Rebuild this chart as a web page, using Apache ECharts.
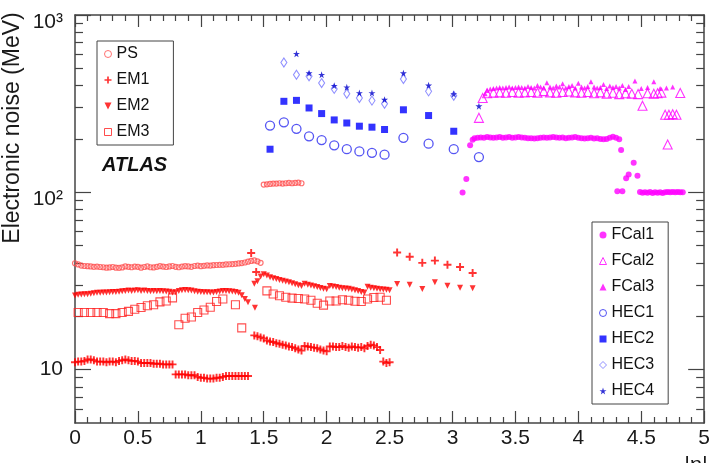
<!DOCTYPE html>
<html>
<head>
<meta charset="utf-8">
<script src="https://cdn.jsdelivr.net/npm/echarts@6/dist/echarts.min.js"></script>
<style>
  html, body { margin: 0; padding: 0; background: #fff; }
  #main { width: 713px; height: 463px; }
</style>
</head>
<body>
<div id="main"></div>
<script>
// noise values, [|eta|, MeV]
var psData = [
  [0.000,39.8],[0.025,39.2],[0.050,38.6],[0.075,38.4],[0.100,38.3],[0.125,38.2],[0.150,38.0],[0.175,38.1],
  [0.200,37.9],[0.225,37.8],[0.250,37.6],[0.275,37.7],[0.300,37.9],[0.325,37.6],[0.350,37.5],[0.375,37.7],
  [0.400,38.2],[0.425,38.0],[0.450,37.8],[0.475,38.1],[0.500,38.0],[0.525,37.6],[0.550,37.9],[0.575,38.2],
  [0.600,37.8],[0.625,37.7],[0.650,38.0],[0.675,38.3],[0.700,38.1],[0.725,37.9],[0.750,38.2],[0.775,38.4],
  [0.800,38.0],[0.825,37.8],[0.850,38.1],[0.875,38.3],[0.900,38.2],[0.925,38.0],[0.950,38.4],[0.975,38.6],
  [1.000,38.3],[1.025,38.5],[1.050,38.7],[1.075,38.6],[1.100,38.8],[1.125,38.9],[1.150,39.0],[1.175,39.0],
  [1.200,39.2],[1.225,39.3],[1.250,39.4],[1.275,39.5],[1.300,39.7],[1.325,39.9],[1.350,40.2],[1.375,40.6],
  [1.400,41.0],[1.425,41.3],[1.450,40.8],[1.475,40.0],
  [1.500,110.5],[1.525,111],[1.550,111.5],[1.575,112],[1.600,112],[1.625,112.5],[1.650,112],
  [1.675,112.5],[1.700,113],[1.725,112.5],[1.750,113],[1.775,113.5],[1.800,112.5]
];

var em1Data = [
  [0.000,11.0],[0.025,11.1],[0.050,11.1],[0.075,11.2],[0.100,11.4],[0.125,11.4],[0.150,11.3],[0.175,11.1],
  [0.200,11.1],[0.225,11.1],[0.250,11.0],[0.275,11.1],[0.300,11.1],[0.325,11.0],[0.350,11.2],[0.375,11.3],
  [0.400,11.4],[0.425,11.3],[0.450,11.2],[0.475,11.2],[0.500,11.1],[0.525,10.9],[0.550,10.9],[0.575,10.9],
  [0.600,10.9],[0.625,10.8],[0.650,10.8],[0.675,10.8],[0.700,10.7],[0.725,10.7],[0.750,10.7],[0.775,10.7],
  [0.800,9.4],[0.825,9.4],[0.850,9.4],[0.875,9.4],[0.900,9.3],[0.925,9.3],[0.950,9.3],[0.975,9.1],
  [1.000,9.0],[1.025,9.0],[1.050,8.9],[1.075,8.9],[1.100,8.9],[1.125,9.0],[1.150,9.0],[1.175,9.1],
  [1.200,9.2],[1.225,9.2],[1.250,9.2],[1.275,9.2],[1.300,9.2],[1.325,9.2],[1.350,9.2],[1.375,9.2],
  [1.400,45.5],[1.440,35.5],
  [1.425,15.6],[1.450,15.4],[1.475,15.2],[1.500,15.0],[1.525,14.6],[1.550,14.4],[1.575,14.3],[1.600,14.1],
  [1.625,14.0],[1.650,13.8],[1.675,13.7],[1.700,13.5],[1.725,13.4],[1.750,13.2],[1.775,13.0],[1.800,12.8],
  [1.825,13.6],[1.850,13.5],[1.875,13.4],[1.900,13.3],[1.925,13.2],[1.950,13.0],[1.975,12.8],[2.000,12.7],
  [2.025,13.5],[2.050,13.5],[2.075,13.4],[2.100,13.4],[2.125,13.6],[2.150,13.4],[2.175,13.3],[2.200,13.5],
  [2.225,13.4],[2.250,13.3],[2.275,13.4],[2.300,13.2],[2.325,13.6],[2.350,13.8],[2.375,13.7],[2.400,13.4],
  [2.425,12.9],[2.450,11.1],[2.475,10.9],[2.500,11.0],
  [2.56,45.8],[2.66,43.3],[2.76,40.0],[2.86,41.2],[2.96,39.0],[3.06,37.9],[3.16,35.1]
];

var em2Data = [
  [0.000,26.2],[0.025,26.4],[0.050,26.5],[0.075,26.6],[0.100,26.6],[0.125,26.8],[0.150,27.0],[0.175,27.1],
  [0.200,27.1],[0.225,27.2],[0.250,27.2],[0.275,27.3],[0.300,27.4],[0.325,27.4],[0.350,27.5],[0.375,27.7],
  [0.400,27.8],[0.425,27.9],[0.450,27.8],[0.475,27.9],[0.500,28.0],[0.525,27.8],[0.550,27.9],[0.575,27.8],
  [0.600,27.7],[0.625,27.8],[0.650,27.7],[0.675,27.8],[0.700,27.7],[0.725,27.6],[0.750,27.5],[0.775,27.2],
  [0.800,27.3],[0.825,27.8],[0.850,28.0],[0.875,28.1],[0.900,28.0],[0.925,27.9],[0.950,27.7],[0.975,27.5],
  [1.000,27.4],[1.025,27.3],[1.050,27.3],[1.075,27.2],[1.100,27.2],[1.125,27.4],[1.150,27.6],[1.175,27.8],
  [1.200,27.8],[1.225,27.7],[1.250,27.6],[1.275,27.4],[1.300,27.1],[1.325,26.3],[1.350,25.0],[1.375,24.0],
  [1.430,22.3],
  [1.425,30.5],[1.450,31.5],[1.475,33.5],[1.500,34.5],[1.525,34.0],[1.550,33.2],[1.575,32.8],[1.600,32.4],
  [1.625,32.0],[1.650,31.7],[1.675,31.4],[1.700,31.1],[1.725,30.7],[1.750,30.3],[1.775,29.9],[1.800,29.6],
  [1.825,30.5],[1.850,30.1],[1.875,29.8],[1.900,29.5],[1.925,29.2],[1.950,28.9],[1.975,28.6],[2.000,28.4],
  [2.025,29.6],[2.050,29.4],[2.075,29.2],[2.100,29.0],[2.125,28.8],[2.150,28.7],[2.175,28.6],[2.200,28.3],
  [2.225,28.0],[2.250,27.8],[2.275,27.4],[2.300,27.2],[2.325,29.3],[2.350,29.0],[2.375,28.8],[2.400,28.6],
  [2.425,28.4],[2.450,28.3],[2.475,28.2],[2.500,28.0],
  [2.56,30.4],[2.66,30.1],[2.76,28.5],[2.86,31.1],[2.96,29.7],[3.06,29.0],[3.16,28.8]
];

var em3Data = [
  [0.025,21.0],[0.075,21.0],[0.125,21.0],[0.175,21.0],[0.225,21.0],[0.275,20.7],[0.325,20.7],[0.375,21.0],
  [0.425,21.3],[0.475,21.9],[0.525,22.4],[0.575,22.9],[0.625,23.2],[0.675,24.1],[0.725,24.4],[0.775,25.4],
  [0.825,17.9],[0.875,19.5],[0.925,19.8],[0.975,21.0],[1.025,21.7],[1.075,22.5],[1.125,24.2],[1.175,25.0],
  [1.275,23.2],[1.325,17.2],
  [1.525,27.8],[1.575,26.7],[1.625,26.1],[1.675,25.6],[1.725,25.3],[1.775,25.2],[1.825,25.0],[1.875,24.6],
  [1.925,23.7],[1.975,23.1],[2.025,24.4],[2.075,24.4],[2.125,24.8],[2.175,24.6],[2.225,24.3],[2.275,24.2],
  [2.325,25.0],[2.375,25.5],[2.425,25.6],[2.475,24.6]
];

var fcal1Data = [
  [3.08,99.6],[3.11,119],[3.14,184],
  [3.160,198],[3.175,202],[3.200,203],[3.225,204],[3.250,203],[3.275,205],[3.300,204],[3.325,203],
  [3.350,204],[3.375,205],[3.400,203],[3.425,204],[3.450,205],[3.475,203],[3.500,204],[3.525,205],
  [3.550,204],[3.575,203],[3.600,202],[3.625,202],[3.650,201],[3.675,202],[3.700,203],[3.725,204],
  [3.750,203],[3.775,204],[3.800,205],[3.825,204],[3.850,203],[3.875,204],[3.900,202],[3.925,203],
  [3.950,204],[3.975,205],[4.000,203],[4.025,202],[4.050,201],[4.075,202],[4.100,203],[4.125,201],
  [4.150,202],[4.175,200],[4.200,199],[4.225,200],[4.250,203],[4.275,206],[4.300,203],[4.325,199],
  [4.31,101.5],[4.35,101.5],[4.34,173],[4.38,120],[4.40,126],[4.44,147],[4.47,124],
  [4.49,100.5],[4.51,99.5],[4.53,100],[4.55,99.5],[4.57,100.5],[4.59,99],[4.61,100],[4.63,99.5],
  [4.65,100],[4.67,99],[4.69,100],[4.71,100.5],[4.73,100],[4.75,100.5],[4.77,100],[4.79,100.5],
  [4.81,100],[4.83,100]
];

var fcal2Data = [
  [3.21,263],[3.24,340],
  [3.275,362],[3.325,365],[3.375,366],[3.425,364],[3.475,368],[3.525,365],[3.575,366],[3.625,368],
  [3.675,365],[3.725,372],[3.775,366],[3.825,364],[3.875,368],[3.925,370],[3.975,366],[4.025,364],
  [4.075,368],[4.125,362],[4.175,366],[4.225,360],[4.275,364],[4.325,358],[4.375,362],[4.425,360],
  [4.475,358],
  [4.51,308],[4.55,362],[4.60,360],[4.63,362],[4.66,365],[4.69,274],[4.71,186],[4.72,274],
  [4.75,276],[4.78,274],[4.81,363]
];

var fcal3Data = [
  [3.260,360],[3.275,375],[3.300,382],[3.325,385],[3.350,388],[3.375,390],[3.400,388],[3.425,390],
  [3.450,392],[3.475,388],[3.500,390],[3.525,392],[3.550,390],[3.575,388],[3.600,395],[3.625,390],
  [3.650,388],[3.675,400],[3.700,392],[3.725,388],[3.750,415],[3.775,392],[3.800,388],[3.825,398],
  [3.850,392],[3.875,410],[3.900,388],[3.925,395],[3.950,400],[3.975,388],[4.000,412],[4.025,392],
  [4.050,388],[4.075,395],[4.100,420],[4.125,392],[4.150,388],[4.175,390],[4.200,405],[4.225,385],
  [4.250,398],[4.275,390],[4.300,395],[4.325,388],[4.350,400],[4.375,380],[4.400,395],[4.450,425],
  [4.500,385],[4.550,390],[4.600,420],[4.650,385],[4.700,388],[4.750,392]
];

var hec1Data = [[1.55,238],[1.66,248],[1.76,228],[1.86,207],[1.96,197],[2.06,184],[2.16,175],
  [2.26,170],[2.36,167],[2.46,163],[2.61,203],[2.81,188],[3.01,175],[3.21,158]];
var hec2Data = [[1.55,175],[1.66,326],[1.76,330],[1.86,299],[1.96,278],[2.06,256],[2.16,246],
  [2.26,236],[2.36,233],[2.46,226],[2.61,292],[2.81,271],[3.01,221]];
var hec3Data = [[1.66,540],[1.76,460],[1.86,451],[1.96,413],[2.06,383],[2.16,360],[2.26,340],
  [2.36,329],[2.46,316],[2.61,435],[2.81,371],[3.01,350]];
var hec4Data = [[1.76,604],[1.86,470],[1.96,460],[2.06,399],[2.16,391],[2.26,363],[2.36,363],
  [2.46,333],[2.61,470],[2.81,401],[3.01,358],[3.21,306]];

var yMajor = [10, 100, 1000];
var yMinor = [6, 7, 8, 9, 20, 30, 40, 50, 60, 70, 80, 90, 200, 300, 400, 500, 600, 700, 800, 900];

var FONT = '"Liberation Sans", Arial, Helvetica, sans-serif';
var AX = '#444';
var PLUS = 'path://M3.8,0H6.2V3.8H10V6.2H6.2V10H3.8V6.2H0V3.8H3.8Z';
var DOWN = 'path://M0,0L10,0L5,10Z';
var STAR = 'path://M5,0L6.2,3.8L10,3.8L6.9,6.1L8.1,10L5,7.6L1.9,10L3.1,6.1L0,3.8L3.8,3.8Z';

function hollow(c, w) {
  return { color: 'rgba(255,255,255,0)', borderColor: c, borderWidth: w || 1 };
}

function sc(name, data, symbol, size, style) {
  return {
    type: 'scatter', name: name, data: data, symbol: symbol, symbolSize: size,
    itemStyle: style, xAxisIndex: 0, yAxisIndex: 0, emphasis: { disabled: true }
  };
}

function xAx(pos, labels) {
  return {
    type: 'value', position: pos, min: 0, max: 5, interval: 0.5,
    axisLine: { show: true, onZero: false, lineStyle: { color: AX, width: 1.5 } },
    axisTick: { show: true, inside: true, length: 12, lineStyle: { color: AX, width: 1.2 } },
    minorTick: { show: true, splitNumber: 5, length: 6, lineStyle: { color: AX, width: 1.2 } },
    axisLabel: { show: labels, fontSize: 21, margin: 5, color: '#1a1a1a', fontFamily: FONT },
    splitLine: { show: false }
  };
}

function yAx(pos, ticks, len, labels, line) {
  return {
    type: 'log', logBase: 10, position: pos, min: 5, max: 1000,
    axisLine: { show: line, onZero: false, lineStyle: { color: AX, width: 1.5 } },
    axisTick: { show: true, inside: true, length: len, customValues: ticks, lineStyle: { color: AX, width: 1.2 } },
    axisLabel: {
      show: labels, customValues: yMajor, margin: 12, fontSize: 21, color: '#1a1a1a', fontFamily: FONT,
      formatter: function (v) {
        if (Math.abs(v - 10) < 1e-6) return '10';
        if (Math.abs(v - 100) < 1e-6) return '{e|10\u00b2}';
        if (Math.abs(v - 1000) < 1e-6) return '{e|10\u00b3}';
        return '';
      },
      rich: { e: { fontSize: 21, fontFamily: FONT, color: '#1a1a1a', padding: [14, 0, 0, 0] } }
    },
    splitLine: { show: false }, minorTick: { show: false }
  };
}

var legendText = { fontSize: 16, fontFamily: FONT, color: '#111', lineHeight: 16 };

var myChart = echarts.init(document.getElementById('main'));
var option = {
  animation: false,
  backgroundColor: '#fff',
  grid: { left: 75, right: 8, top: 15, bottom: 40 },
  xAxis: [xAx('bottom', true), xAx('top', false)],
  yAxis: [
    yAx('left', yMajor, 16, true, true),
    yAx('left', yMinor, 8, false, false),
    yAx('right', yMajor, 16, false, true),
    yAx('right', yMinor, 8, false, false)
  ],
  legend: [
    {
      data: ['PS', 'EM1', 'EM2', 'EM3'], orient: 'vertical', left: 97, top: 41,
      itemWidth: 7, itemHeight: 7, itemGap: 10, padding: [5, 24, 5, 7],
      borderColor: '#444', borderWidth: 1, selectedMode: false, textStyle: legendText,
      itemStyle: { borderWidth: 1 }
    },
    {
      data: ['FCal1', 'FCal2', 'FCal3', 'HEC1', 'HEC2', 'HEC3', 'HEC4'], orient: 'vertical', left: 592, top: 222,
      itemWidth: 7, itemHeight: 7, itemGap: 10, padding: [5, 14, 5, 7],
      borderColor: '#444', borderWidth: 1, selectedMode: false, textStyle: legendText,
      itemStyle: { borderWidth: 1 }
    }
  ],
  graphic: [
    { type: 'text', x: 13, y: 128, rotation: Math.PI / 2,
      style: { text: 'Electronic noise (MeV)', font: '23px ' + FONT, fill: '#1a1a1a', textAlign: 'center', textVerticalAlign: 'middle' } },
    { type: 'text', x: 696, y: 455,
      style: { text: '|\u03b7|', font: '22px ' + FONT, fill: '#1a1a1a', textAlign: 'center', textVerticalAlign: 'top' } },
    { type: 'text', x: 102, y: 165,
      style: { text: 'ATLAS', font: 'italic bold 20px ' + FONT, fill: '#111', textAlign: 'left', textVerticalAlign: 'middle' } }
  ],
  series: [
    sc('PS', psData, 'circle', 5, hollow('#ff5050', 1.2)),
    sc('EM3', em3Data, 'rect', 8, hollow('#ff2020', 1.1)),
    sc('EM2', em2Data, DOWN, 6, { color: '#ff0000' }),
    sc('EM1', em1Data, PLUS, 8, { color: '#ff0000' }),
    sc('HEC1', hec1Data, 'circle', 9, hollow('#2b2bf0', 1.3)),
    sc('HEC2', hec2Data, 'rect', 7, { color: '#0000ff' }),
    sc('HEC3', hec3Data, 'diamond', [6, 9], hollow('#7373ff', 1.1)),
    sc('HEC4', hec4Data, STAR, 7, { color: '#0000cc' }),
    sc('FCal2', fcal2Data, 'triangle', 9, hollow('#ff00ff', 1.1)),
    sc('FCal3', fcal3Data, 'triangle', 5, { color: '#ff00ff' }),
    sc('FCal1', fcal1Data, 'circle', 6, { color: '#ff00ff' })
  ]
};
myChart.setOption(option);
</script>
</body>
</html>
